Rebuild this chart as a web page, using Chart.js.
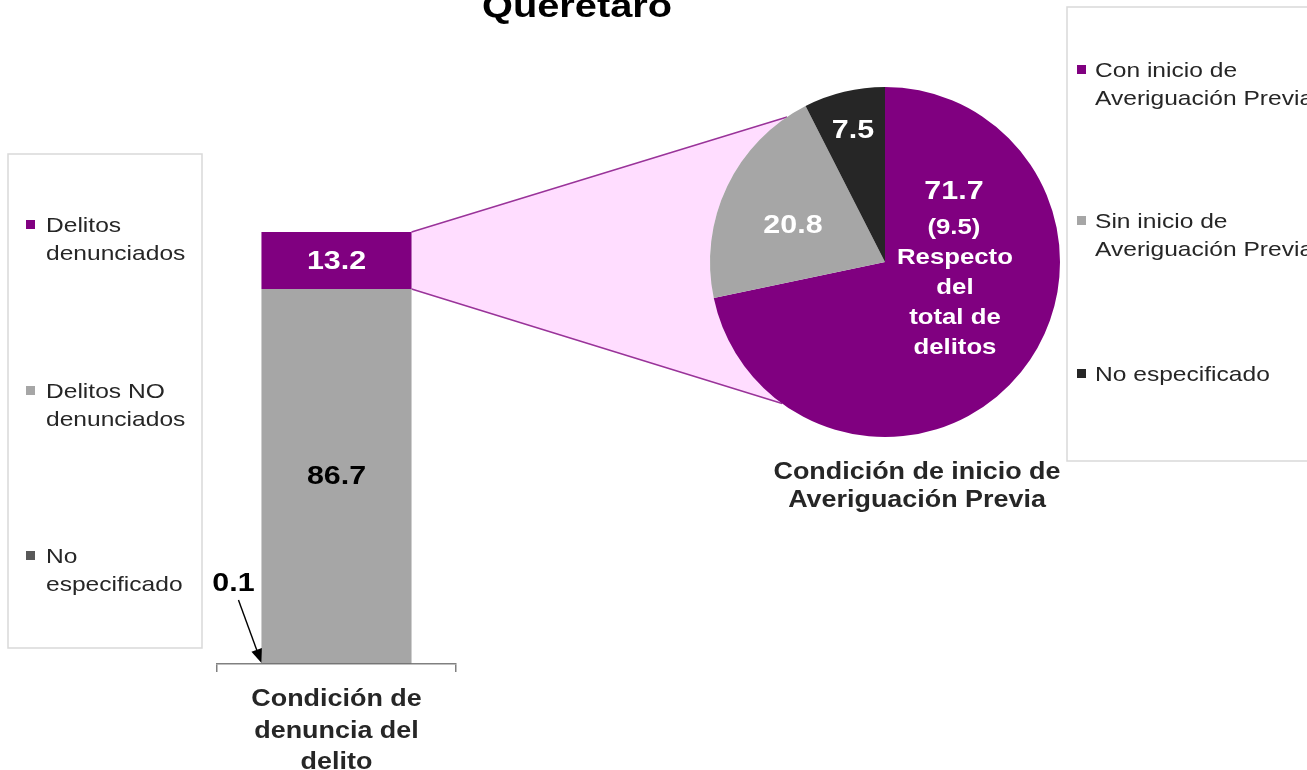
<!DOCTYPE html>
<html>
<head>
<meta charset="utf-8">
<script src="https://cdn.jsdelivr.net/npm/chart.js"></script>
<style>
  html, body { margin: 0; padding: 0; background: #fff; }
  #wrap { position: relative; width: 1307px; height: 770px; overflow: hidden; }
  canvas { position: absolute; left: 0; top: 0; }
</style>
</head>
<body>
<div id="wrap">
  <canvas id="barChart" width="1307" height="770"></canvas>
  <canvas id="pieChart" width="1307" height="770"></canvas>
</div>
<script>
// ---- data ----
const chartTitle = 'Querétaro';
const barCategory = ['Condición de', 'denuncia del', 'delito'];
const barSeries = ['No especificado', 'Delitos NO denunciados', 'Delitos denunciados'];
const barNoEspecificado = [0.1];
const barNoDenunciados = [86.7];
const barDenunciados = [13.2];
const barLegendLines = [['Delitos', 'denunciados'], ['Delitos NO', 'denunciados'], ['No', 'especificado']];

const pieLabels = ['Con inicio de Averiguación Previa', 'Sin inicio de Averiguación Previa', 'No especificado'];
const pieValues = [71.7, 20.8, 7.5];
const pieShareOfTotal = 9.5;
const pieNoteLines = ['Respecto', 'del', 'total de', 'delitos'];
const pieCaption = ['Condición de inicio de', 'Averiguación Previa'];
const pieLegendLines = [['Con inicio de', 'Averiguación Previa'], ['Sin inicio de', 'Averiguación Previa'], ['No especificado']];

// ---- style ----
const FONT = '"Liberation Sans", Arial, sans-serif';
const SX = 1.17; // horizontal stretch of the original text
const PURPLE = '#800080';
const GRAY = '#A6A6A6';
const DARK = '#595959';
const BLACK = '#262626';
const TEXT = '#262626';

function stretchText(ctx, text, x, y, align, baseline) {
  ctx.save();
  ctx.translate(x, y);
  ctx.scale(SX, 1);
  ctx.textAlign = align || 'center';
  ctx.textBaseline = baseline || 'middle';
  ctx.fillText(text, 0, 0);
  ctx.restore();
}

function drawLegend(ctx, box, items, colors, textX, squareX, rowsY) {
  ctx.save();
  ctx.strokeStyle = '#d9d9d9';
  ctx.lineWidth = 1.5;
  ctx.strokeRect(box.x, box.y, box.w, box.h);
  ctx.font = '21px ' + FONT;
  items.forEach((lines, i) => {
    const y0 = rowsY[i];
    ctx.fillStyle = colors[i];
    ctx.fillRect(squareX, y0 - 5, 9, 9);
    ctx.fillStyle = TEXT;
    lines.forEach((ln, j) => stretchText(ctx, ln, textX, y0 + 1 + j * 28, 'left'));
  });
  ctx.restore();
}

// ---- pie chart (top layer) ----
const pieColors = [PURPLE, GRAY, BLACK];
const pieLabelPos = [[0.394, -0.40], [-0.526, -0.205], [-0.183, -0.75]];

const pieDecor = {
  id: 'pieDecor',
  afterDatasetsDraw(chart) {
    const ctx = chart.ctx;
    const arcs = chart.getDatasetMeta(0).data;
    const cx = arcs[0].x, cy = arcs[0].y, r = arcs[0].outerRadius;
    ctx.save();
    ctx.fillStyle = '#fff';
    ctx.font = 'bold 26px ' + FONT;
    pieValues.forEach((v, i) => {
      stretchText(ctx, v.toFixed(1), cx + pieLabelPos[i][0] * r, cy + pieLabelPos[i][1] * r);
    });
    const px = cx + pieLabelPos[0][0] * r, py = cy + pieLabelPos[0][1] * r;
    ctx.font = 'bold 22px ' + FONT;
    stretchText(ctx, '(' + pieShareOfTotal.toFixed(1) + ')', px, py + 36);
    pieNoteLines.forEach((ln, j) => stretchText(ctx, ln, px + 1, py + 66 + j * 30));
    // caption
    ctx.fillStyle = TEXT;
    ctx.font = 'bold 23px ' + FONT;
    pieCaption.forEach((ln, j) => stretchText(ctx, ln, cx + 32, chart.chartArea.bottom + 36 + j * 28));
    ctx.restore();
  },
  afterDraw(chart) {
    drawLegend(chart.ctx, { x: 1067, y: 7, w: 260, h: 454 }, pieLegendLines, pieColors, 1095, 1077, [70, 221, 374]);
  }
};

const pieChart = new Chart(document.getElementById('pieChart'), {
  type: 'pie',
  data: {
    labels: pieLabels,
    datasets: [{ data: pieValues, backgroundColor: pieColors, borderWidth: 0 }]
  },
  options: {
    responsive: false,
    animation: false,
    layout: { padding: { left: 710, right: 247, top: 87, bottom: 333 } },
    plugins: { legend: { display: false }, tooltip: { enabled: false } }
  },
  plugins: [pieDecor]
});

// ---- bar chart (bottom layer) ----
const CONNECT_ANGLES = [236, 126]; // degrees on the pie where the connector meets it

const barDecor = {
  id: 'barDecor',
  beforeDatasetsDraw(chart) {
    const ctx = chart.ctx;
    ctx.save();
    // title
    ctx.fillStyle = '#000';
    ctx.font = 'bold 34px ' + FONT;
    stretchText(ctx, chartTitle, 577, 17, 'center', 'alphabetic');

    // connector between bar segment and pie
    const seg = chart.getDatasetMeta(2).data[0];
    const right = seg.x + seg.width / 2;
    const arc = pieChart.getDatasetMeta(0).data[0];
    const cx = arc.x, cy = arc.y, r = arc.outerRadius;
    const a1 = CONNECT_ANGLES[0] * Math.PI / 180, a2 = CONNECT_ANGLES[1] * Math.PI / 180;
    const p1 = [cx + r * Math.cos(a1), cy + r * Math.sin(a1)];
    const p2 = [cx + r * Math.cos(a2), cy + r * Math.sin(a2)];
    ctx.beginPath();
    ctx.moveTo(right, seg.y);
    ctx.lineTo(p1[0], p1[1]);
    ctx.arc(cx, cy, r, a1, a2, true);
    ctx.lineTo(right, seg.base);
    ctx.closePath();
    ctx.fillStyle = '#FFDDFF';
    ctx.fill();
    ctx.strokeStyle = '#993399';
    ctx.lineWidth = 1.5;
    ctx.beginPath();
    ctx.moveTo(right, seg.y); ctx.lineTo(p1[0], p1[1]);
    ctx.moveTo(right, seg.base); ctx.lineTo(p2[0], p2[1]);
    ctx.stroke();
    ctx.restore();
  },
  afterDatasetsDraw(chart) {
    const ctx = chart.ctx;
    const top = chart.getDatasetMeta(2).data[0];
    const mid = chart.getDatasetMeta(1).data[0];
    const low = chart.getDatasetMeta(0).data[0];
    ctx.save();
    ctx.font = 'bold 26px ' + FONT;
    ctx.fillStyle = '#fff';
    stretchText(ctx, barDenunciados[0].toFixed(1), top.x, (top.y + top.base) / 2 + 1);
    ctx.fillStyle = '#000';
    stretchText(ctx, barNoDenunciados[0].toFixed(1), mid.x, (mid.y + mid.base) / 2 + 1);
    const left = low.x - low.width / 2;
    const lx = left - 28, ly = low.base - 80;
    stretchText(ctx, barNoEspecificado[0].toFixed(1), lx, ly);
    // arrow to the tiny segment
    const ax0 = lx + 5, ay0 = ly + 16, ax1 = left, ay1 = low.base - 1;
    const ang = Math.atan2(ay1 - ay0, ax1 - ax0);
    ctx.strokeStyle = '#000';
    ctx.lineWidth = 1.4;
    ctx.beginPath();
    ctx.moveTo(ax0, ay0);
    ctx.lineTo(ax1 - 10 * Math.cos(ang), ay1 - 10 * Math.sin(ang));
    ctx.stroke();
    ctx.beginPath();
    ctx.moveTo(ax1, ay1);
    ctx.lineTo(ax1 - 15 * Math.cos(ang - 0.38), ay1 - 15 * Math.sin(ang - 0.38));
    ctx.lineTo(ax1 - 15 * Math.cos(ang + 0.38), ay1 - 15 * Math.sin(ang + 0.38));
    ctx.closePath();
    ctx.fill();
    // category label
    ctx.fillStyle = TEXT;
    ctx.font = 'bold 23px ' + FONT;
    const xs = chart.scales.x;
    barCategory.forEach((ln, j) => stretchText(ctx, ln, (xs.left + xs.right) / 2, chart.chartArea.bottom + 36 + j * 31.5));
    ctx.restore();
  },
  afterDraw(chart) {
    drawLegend(chart.ctx, { x: 8, y: 154, w: 194, h: 494 }, barLegendLines,
      [PURPLE, GRAY, DARK], 46, 26, [225, 391, 556]);
  }
};

new Chart(document.getElementById('barChart'), {
  type: 'bar',
  data: {
    labels: ['Condición de denuncia del delito'],
    datasets: [
      { label: barSeries[0], data: barNoEspecificado, backgroundColor: DARK },
      { label: barSeries[1], data: barNoDenunciados, backgroundColor: GRAY },
      { label: barSeries[2], data: barDenunciados, backgroundColor: PURPLE }
    ]
  },
  options: {
    responsive: false,
    animation: false,
    datasets: { bar: { barPercentage: 1, categoryPercentage: 0.628 } },
    layout: { padding: { left: 217, right: 851, top: 232, bottom: 0 } },
    scales: {
      x: {
        stacked: true,
        grid: { offset: true, drawOnChartArea: false, drawTicks: true, tickLength: 8, color: '#808080', lineWidth: 1.5 },
        border: { display: true, color: '#808080', width: 1.5 },
        ticks: { display: false },
        afterFit(scale) { scale.height = 106; }
      },
      y: { stacked: true, display: false, min: 0, max: 100 }
    },
    plugins: { legend: { display: false }, tooltip: { enabled: false } }
  },
  plugins: [barDecor]
});
</script>
</body>
</html>
